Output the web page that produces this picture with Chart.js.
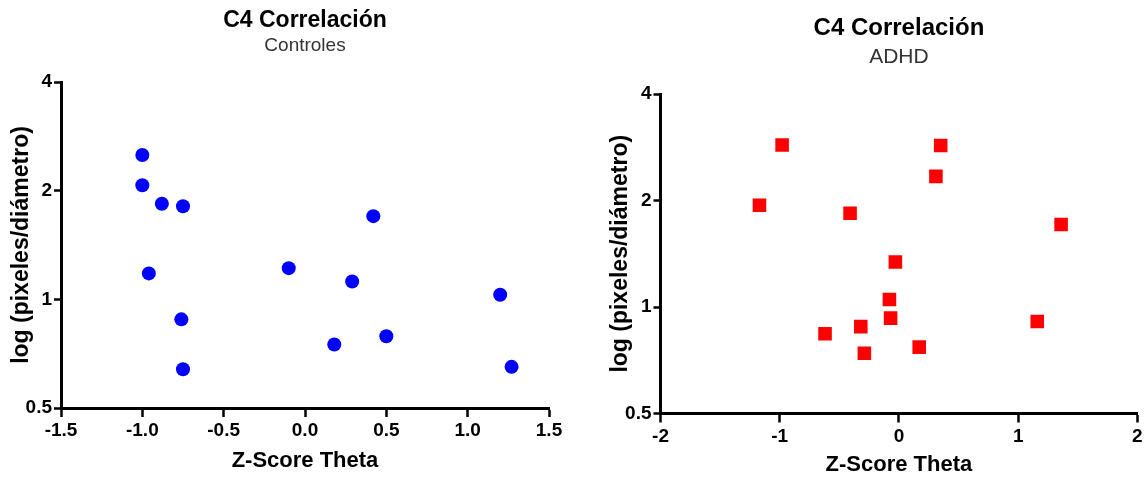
<!DOCTYPE html>
<html>
<head>
<meta charset="utf-8">
<script src="https://cdn.jsdelivr.net/npm/chart.js@4.4.1/dist/chart.umd.min.js"></script>
<style>
  html, body { margin: 0; padding: 0; background: #fff; }
  #wrap { display: flex; width: 1147px; height: 478px; }
  canvas { display: block; }
</style>
</head>
<body>
<div id="wrap">
  <canvas id="ctrl" width="574" height="478"></canvas>
  <canvas id="adhd" width="573" height="478"></canvas>
</div>
<script>
// Shared log-axis ticks
const logTicks = [0.5, 1, 2, 4];

// Controles
const controlZ   = [-1.00, -1.00, -0.88, -0.75, -0.96, -0.76, -0.75, -0.10, 0.29, 0.42, 0.18, 0.50, 1.20, 1.27];
const controlLog = [ 2.51,  2.07,  1.84,  1.81,  1.18,  0.88,  0.64,  1.22, 1.12, 1.70, 0.75, 0.79, 1.03, 0.65];
const controlXTicks = [-1.5, -1.0, -0.5, 0.0, 0.5, 1.0, 1.5];

// ADHD
const adhdZ   = [-0.98, -1.17, -0.41, -0.62, -0.32, -0.29, 0.35, 0.31, 1.36, -0.03, -0.08, -0.07, 0.17, 1.16];
const adhdLog = [ 2.87,  1.94,  1.84,  0.84,  0.88,  0.74, 2.86, 2.34, 1.71,  1.34,  1.05,  0.93, 0.77, 0.91];
const adhdXTicks = [-2, -1, 0, 1, 2];

const FAMILY = "'Liberation Sans', Arial, Helvetica, sans-serif";

function makeChart(id, o) {
  const points = o.xs.map((x, i) => ({ x: x, y: o.ys[i] }));
  return new Chart(document.getElementById(id), {
    type: 'scatter',
    data: {
      datasets: [{
        data: points,
        pointStyle: o.pointStyle,
        pointRadius: o.pointRadius,
        pointHoverRadius: o.pointRadius,
        backgroundColor: o.color,
        borderColor: o.color,
        borderWidth: 0
      }]
    },
    options: {
      responsive: false,
      animation: false,
      events: [],
      layout: { padding: { left: 0, right: o.padRight, top: 0, bottom: 0 } },
      plugins: {
        legend: { display: false },
        tooltip: { enabled: false },
        title: {
          display: true,
          text: 'C4 Correlación',
          fullSize: false,
          color: '#000',
          font: { family: FAMILY, size: o.titleSize, weight: 'bold', lineHeight: 1.2 },
          padding: { top: o.titleTop, bottom: 0 }
        },
        subtitle: {
          display: true,
          text: o.subtitle,
          fullSize: false,
          color: '#333',
          font: { family: FAMILY, size: o.subSize, weight: 'normal', lineHeight: 1.2 },
          padding: { top: o.subTop, bottom: o.subBottom }
        }
      },
      scales: {
        x: {
          type: 'linear',
          min: o.xTicks[0],
          max: o.xTicks[o.xTicks.length - 1],
          afterBuildTicks: s => { s.ticks = o.xTicks.map(v => ({ value: v })); },
          afterFit: s => { s.height = o.xHeight; },
          border: { display: true, color: '#000', width: 3 },
          grid: { display: true, drawOnChartArea: false, drawTicks: true, tickLength: 9, tickWidth: 2.5, tickColor: '#000' },
          ticks: {
            autoSkip: false,
            maxRotation: 0,
            padding: o.xTickPad,
            color: '#000',
            font: { family: FAMILY, size: 19, weight: 'bold', lineHeight: 1.2 },
            callback: v => o.xFormat(v)
          },
          title: {
            display: true,
            text: 'Z-Score Theta',
            color: '#000',
            font: { family: FAMILY, size: 22, weight: 'bold', lineHeight: 1.2 },
            padding: { top: 0, bottom: o.xTitlePad }
          }
        },
        y: {
          type: 'logarithmic',
          min: logTicks[0],
          max: logTicks[logTicks.length - 1],
          afterBuildTicks: s => { s.ticks = logTicks.map(v => ({ value: v })); },
          afterFit: s => { s.width = o.yWidth; },
          border: { display: true, color: '#000', width: 3 },
          grid: { display: true, drawOnChartArea: false, drawTicks: true, tickLength: 7, tickWidth: 2.5, tickColor: '#000' },
          ticks: {
            autoSkip: false,
            padding: 2,
            color: '#000',
            font: { family: FAMILY, size: 19, weight: 'bold', lineHeight: 1.2 },
            callback: v => String(v)
          },
          title: {
            display: true,
            text: 'log (pixeles/diámetro)',
            color: '#000',
            font: { family: FAMILY, size: 23, weight: 'bold', lineHeight: 1.2 },
            padding: { top: o.yTitlePad, bottom: 0 }
          }
        }
      }
    }
  });
}

makeChart('ctrl', {
  xs: controlZ, ys: controlLog, xTicks: controlXTicks,
  xFormat: v => Number(v).toFixed(1),
  subtitle: 'Controles',
  color: '#0000ff', pointStyle: 'circle', pointRadius: 7,
  titleSize: 23, titleTop: 7, subSize: 19, subTop: 0, subBottom: 24.6,
  padRight: 25, yWidth: 61, xHeight: 70, xTickPad: 2, xTitlePad: 4, yTitlePad: 8
});

makeChart('adhd', {
  xs: adhdZ, ys: adhdLog, xTicks: adhdXTicks,
  xFormat: v => String(Math.round(v)),
  subtitle: 'ADHD',
  color: '#ff0000', pointStyle: 'rect', pointRadius: 9.6,
  titleSize: 24, titleTop: 13.6, subSize: 21, subTop: 2.5, subBottom: 23.9,
  padRight: 7, yWidth: 86.5, xHeight: 64.5, xTickPad: 3, xTitlePad: 0, yTitlePad: 33
});
</script>
</body>
</html>
